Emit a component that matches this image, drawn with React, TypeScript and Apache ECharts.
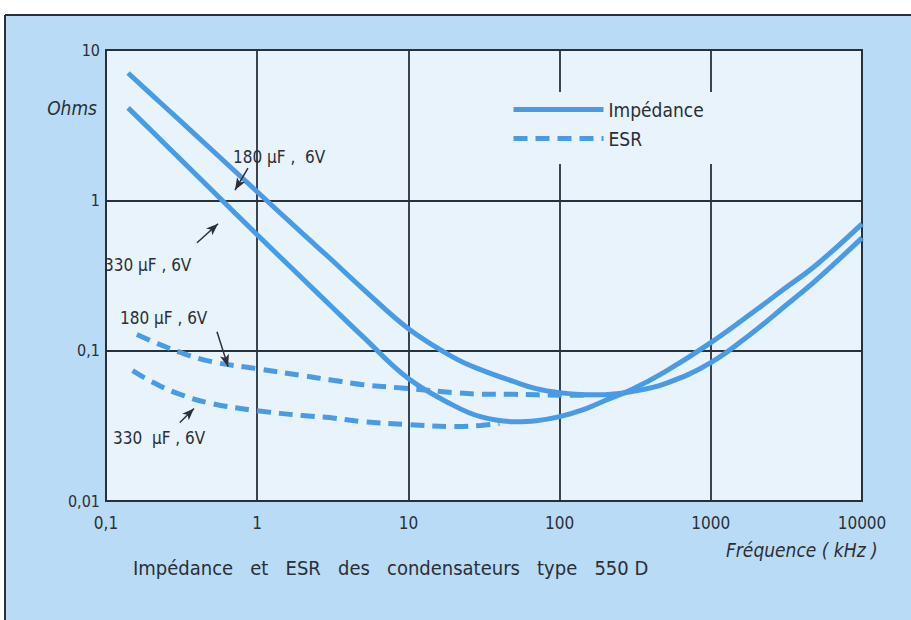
import React, { useEffect, useRef } from "react";
import * as echarts from "echarts";

// ---- data ----
const freqZ = [0.14, 0.2, 0.3, 0.5, 1, 2, 3, 5, 10, 20, 30, 50, 70, 100, 150, 200, 300, 500, 1000, 2000, 3000, 5000, 10000];
const impedance180 = [7.03, 5.05, 3.48, 2.17, 1.14, 0.6, 0.415, 0.258, 0.14, 0.0899, 0.0748, 0.0622, 0.0559, 0.0526, 0.051, 0.051, 0.0534, 0.0604, 0.0832, 0.138, 0.193, 0.296, 0.563];
const impedance330 = [4.12, 2.9, 1.94, 1.17, 0.59, 0.301, 0.203, 0.124, 0.0652, 0.0431, 0.0364, 0.0337, 0.0342, 0.0364, 0.0412, 0.0466, 0.0551, 0.0725, 0.113, 0.187, 0.254, 0.373, 0.698];
const freqEsr180 = [0.16, 0.2, 0.3, 0.5, 1, 2, 3, 5, 10, 20, 30, 50, 100, 150];
const esr180 = [0.128, 0.116, 0.0985, 0.0845, 0.0759, 0.0682, 0.0641, 0.0594, 0.056, 0.0526, 0.0514, 0.0512, 0.0506, 0.0506];
const freqEsr330 = [0.15, 0.2, 0.3, 0.5, 1, 2, 3, 5, 10, 20, 30, 40];
const esr330 = [0.0736, 0.0622, 0.0518, 0.0445, 0.0399, 0.037, 0.0359, 0.0337, 0.0322, 0.0313, 0.0318, 0.0328];

const xTickLabels = ["0,1", "1", "10", "100", "1000", "10000"];
const yTickLabels = ["0,01", "0,1", "1", "10"];

// annotation arrows in data space: [from, to]
const arrows: [number, number][][] = [
  [[0.869, 1.64], [0.713, 1.17]],
  [[0.4, 0.522], [0.551, 0.698]],
  [[0.542, 0.1337], [0.642, 0.0783]],
  [[0.308, 0.0333], [0.382, 0.0412]],
];

const FONT = "'DejaVu Sans Condensed', 'Liberation Sans Narrow', 'DejaVu Sans', sans-serif";
const INK = "#2b2f36";
const GRIDC = "#27313b";
const BLUE = "#4a9be6";
const PLOTBG = "#e8f3fc";
const OUTERBG = "#b9dbf5";

const pairs = (xs: number[], ys: number[]) => xs.map((x, i) => [x, ys[i]]);

export default function App() {
  const ref = useRef<HTMLDivElement>(null);
  useEffect(() => {
    if (!ref.current) return;
    const chart = echarts.init(ref.current, undefined, { renderer: "svg" });
    const solid = { color: BLUE, width: 5 };
    const dashed = { color: BLUE, width: 5, type: [14, 8] as any };
    chart.setOption({
      animation: false,
      backgroundColor: OUTERBG,
      grid: {
        left: 106,
        right: 49,
        top: 50,
        bottom: 119,
        show: true,
        backgroundColor: PLOTBG,
        borderColor: GRIDC,
        borderWidth: 2,
      },
      title: {
        text: "Impédance   et   ESR   des   condensateurs   type   550 D",
        left: 128,
        top: 553,
        textStyle: { fontFamily: FONT, fontSize: 20, fontWeight: "normal", color: INK },
      },
      legend: {
        data: ["Impédance", "ESR"],
        orient: "vertical",
        left: 487,
        top: 92,
        padding: [8, 24, 16, 24],
        itemWidth: 90,
        itemHeight: 14,
        itemGap: 10,
        backgroundColor: PLOTBG,
        itemStyle: { color: "rgba(0,0,0,0)", borderWidth: 0, opacity: 0 },
        lineStyle: { width: 5 },
        textStyle: { fontFamily: FONT, fontSize: 19, color: INK },
      },
      xAxis: {
        type: "log",
        logBase: 10,
        min: 0.1,
        max: 10000,
        axisLine: { show: false },
        axisTick: { show: false },
        splitLine: { show: true, lineStyle: { color: GRIDC, width: 1.8 } },
        axisLabel: {
          margin: 13,
          fontFamily: FONT,
          fontSize: 17,
          color: INK,
          formatter: (v: number) => xTickLabels[Math.round(Math.log10(v)) + 1] ?? "",
        },
      },
      yAxis: {
        type: "log",
        logBase: 10,
        min: 0.01,
        max: 10,
        axisLine: { show: false },
        axisTick: { show: false },
        splitLine: { show: true, lineStyle: { color: GRIDC, width: 1.8 } },
        axisLabel: {
          margin: 6,
          fontFamily: FONT,
          fontSize: 16,
          color: INK,
          formatter: (v: number) => yTickLabels[Math.round(Math.log10(v)) + 2] ?? "",
        },
      },
      series: [
        {
          name: "Impédance",
          type: "line",
          data: pairs(freqZ, impedance180),
          showSymbol: false,
          symbol: "none",
          smooth: 0.4,
          lineStyle: solid,
          color: BLUE,
          markLine: {
            silent: true,
            symbol: ["none", "arrow"],
            symbolSize: [7, 12],
            label: { show: false },
            lineStyle: { color: INK, width: 1.5, type: "solid" },
            data: arrows.map(([a, b]) => [{ coord: a }, { coord: b }]),
          },
        },
        {
          name: "Impédance",
          type: "line",
          data: pairs(freqZ, impedance330),
          showSymbol: false,
          symbol: "none",
          smooth: 0.4,
          lineStyle: solid,
          color: BLUE,
        },
        {
          name: "ESR",
          type: "line",
          data: pairs(freqEsr180, esr180),
          showSymbol: false,
          symbol: "none",
          smooth: 0.4,
          lineStyle: dashed,
          color: BLUE,
        },
        {
          name: "ESR",
          type: "line",
          data: pairs(freqEsr330, esr330),
          showSymbol: false,
          symbol: "none",
          smooth: 0.4,
          lineStyle: dashed,
          color: BLUE,
        },
      ],
      graphic: [
        { type: "rect", shape: { x: 0, y: 0, width: 911, height: 14 }, style: { fill: "#ffffff" }, silent: true },
        { type: "rect", shape: { x: 0, y: 0, width: 5, height: 620 }, style: { fill: "#ffffff" }, silent: true },
        { type: "line", shape: { x1: 5, y1: 15, x2: 911, y2: 15 }, style: { stroke: GRIDC, lineWidth: 2 }, silent: true },
        { type: "line", shape: { x1: 5, y1: 15, x2: 5, y2: 620 }, style: { stroke: GRIDC, lineWidth: 2 }, silent: true },
        {
          type: "text",
          x: 97,
          y: 108,
          style: { text: "Ohms", fontFamily: FONT, fontSize: 19, fontStyle: "italic", fill: INK, align: "right", verticalAlign: "middle" },
        },
        {
          type: "text",
          x: 726,
          y: 550,
          style: { text: "Fréquence ( kHz )", fontFamily: FONT, fontSize: 19, fontStyle: "italic", fill: INK, align: "left", verticalAlign: "middle" },
        },
        {
          type: "text",
          x: 233,
          y: 157,
          style: { text: "180 µF ,  6V", fontFamily: FONT, fontSize: 17, fill: INK, align: "left", verticalAlign: "middle" },
        },
        {
          type: "text",
          x: 104,
          y: 265,
          style: { text: "330 µF , 6V", fontFamily: FONT, fontSize: 17, fill: INK, align: "left", verticalAlign: "middle" },
        },
        {
          type: "text",
          x: 120,
          y: 318,
          style: { text: "180 µF , 6V", fontFamily: FONT, fontSize: 17, fill: INK, align: "left", verticalAlign: "middle" },
        },
        {
          type: "text",
          x: 113,
          y: 438,
          style: { text: "330  µF , 6V", fontFamily: FONT, fontSize: 17, fill: INK, align: "left", verticalAlign: "middle" },
        },
      ],
    });
    return () => chart.dispose();
  }, []);
  return <div ref={ref} style={{ position: "fixed", left: 0, top: 0, width: 911, height: 620 }} />;
}
